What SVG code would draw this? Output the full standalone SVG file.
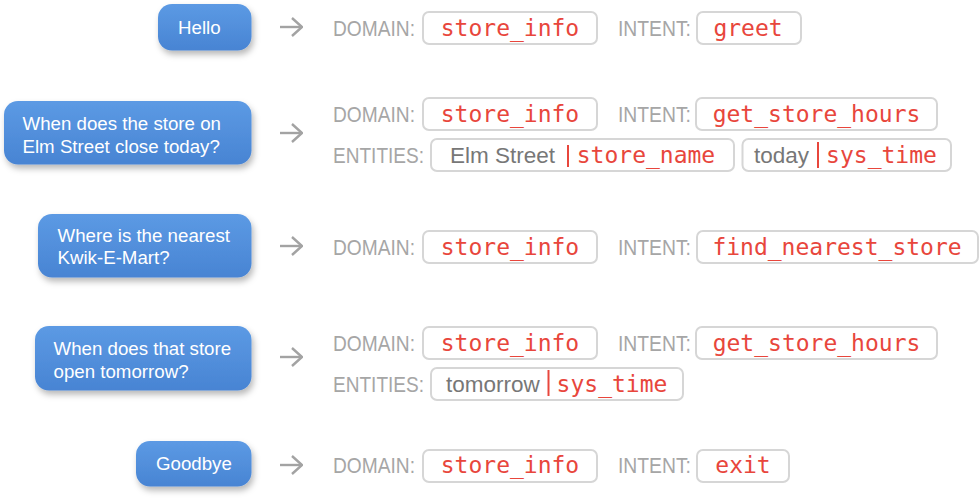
<svg xmlns="http://www.w3.org/2000/svg" width="979" height="500" viewBox="0 0 979 500">
<defs>
<linearGradient id="bg" x1="0" y1="0" x2="0" y2="1">
<stop offset="0" stop-color="#5c9ae4"/>
<stop offset="1" stop-color="#4884d3"/>
</linearGradient>
<filter id="sh" x="-20%" y="-30%" width="150%" height="180%">
<feDropShadow dx="2" dy="4" stdDeviation="3" flood-color="#000" flood-opacity="0.28"/>
</filter>
<marker id="ah" viewBox="0 0 12 20" refX="11" refY="10" markerWidth="12" markerHeight="20" markerUnits="userSpaceOnUse" orient="auto">
<path d="M1,1 L11,10 L1,19" fill="none" stroke="#a3a3a3" stroke-width="2.4"/>
</marker>
</defs>
<style>
.bub{fill:url(#bg);filter:url(#sh)}
.bt{fill:#fff;font-family:"Liberation Sans",Arial,sans-serif;font-size:18.7px}
.lbl{fill:#a6a6a6;font-family:"Liberation Sans",Arial,sans-serif;font-size:22px}
.box{fill:#fff;stroke:#d6d6d6;stroke-width:2}
.val{fill:#e8463c;font-family:"DejaVu Sans Mono",monospace;font-size:23px;text-anchor:middle}
.ent{fill:#777;font-family:"Liberation Sans",Arial,sans-serif;font-size:22.5px}
.bar{stroke:#e8463c;stroke-width:2}
.arr{stroke:#a3a3a3;stroke-width:2.4;fill:none}
</style>

<g id="connectors">
<line class="arr" x1="280" y1="27" x2="302" y2="27" marker-end="url(#ah)"/>
<line class="arr" x1="280" y1="133" x2="302" y2="133" marker-end="url(#ah)"/>
<line class="arr" x1="280" y1="246" x2="302" y2="246" marker-end="url(#ah)"/>
<line class="arr" x1="280" y1="357" x2="302" y2="357" marker-end="url(#ah)"/>
<line class="arr" x1="280" y1="465" x2="302" y2="465" marker-end="url(#ah)"/>
</g>

<g id="q1">
<rect class="bub" x="158" y="4" width="93.5" height="46.5" rx="14"/>
<text class="bt" x="178" y="33.5">Hello</text>
</g>
<g id="q2">
<rect class="bub" x="4" y="101" width="247.5" height="63.5" rx="14"/>
<text class="bt" x="22.5" y="130">When does the store on</text>
<text class="bt" x="22.5" y="152.5">Elm Street close today?</text>
</g>
<g id="q3">
<rect class="bub" x="38" y="214" width="213.5" height="63.5" rx="14"/>
<text class="bt" x="57.5" y="241.5">Where is the nearest</text>
<text class="bt" x="57.5" y="264">Kwik-E-Mart?</text>
</g>
<g id="q4">
<rect class="bub" x="35" y="326" width="216.5" height="64.5" rx="14"/>
<text class="bt" x="53.5" y="355">When does that store</text>
<text class="bt" x="53.5" y="377.5">open tomorrow?</text>
</g>
<g id="q5">
<rect class="bub" x="136" y="441" width="115.5" height="45.5" rx="14"/>
<text class="bt" x="156" y="470">Goodbye</text>
</g>

<g id="r1">
<text class="lbl" x="333" y="35.5" textLength="82" lengthAdjust="spacingAndGlyphs">DOMAIN:</text>
<rect class="box" x="423" y="12" width="174" height="32" rx="6"/>
<text class="val" x="510" y="35.5">store_info</text>
<text class="lbl" x="618" y="35.5" textLength="73" lengthAdjust="spacingAndGlyphs">INTENT:</text>
<rect class="box" x="697" y="12" width="104" height="32" rx="6"/>
<text class="val" x="748" y="35.5">greet</text>
</g>

<g id="r2">
<text class="lbl" x="333" y="121.5" textLength="82" lengthAdjust="spacingAndGlyphs">DOMAIN:</text>
<rect class="box" x="423" y="98" width="174" height="32" rx="6"/>
<text class="val" x="510" y="121.5">store_info</text>
<text class="lbl" x="618" y="121.5" textLength="73" lengthAdjust="spacingAndGlyphs">INTENT:</text>
<rect class="box" x="696" y="98" width="241" height="32" rx="6"/>
<text class="val" x="816.5" y="121.5">get_store_hours</text>
<text class="lbl" x="333" y="162.5" textLength="91" lengthAdjust="spacingAndGlyphs">ENTITIES:</text>
<rect class="box" x="431" y="139" width="303" height="32" rx="6"/>
<text class="ent" x="450" y="162.5">Elm Street</text>
<line class="bar" x1="568" y1="145" x2="568" y2="167"/>
<text class="val" x="646" y="162.5">store_name</text>
<rect class="box" x="742.5" y="139" width="208.5" height="32" rx="6"/>
<text class="ent" x="754" y="162.5">today</text>
<line class="bar" x1="818" y1="142" x2="818" y2="168"/>
<text class="val" x="881.5" y="162.5">sys_time</text>
</g>

<g id="r3">
<text class="lbl" x="333" y="254.5" textLength="82" lengthAdjust="spacingAndGlyphs">DOMAIN:</text>
<rect class="box" x="423" y="231" width="174" height="32" rx="6"/>
<text class="val" x="510" y="254.5">store_info</text>
<text class="lbl" x="618" y="254.5" textLength="73" lengthAdjust="spacingAndGlyphs">INTENT:</text>
<rect class="box" x="697" y="231" width="281" height="32" rx="6"/>
<text class="val" x="837" y="254.5">find_nearest_store</text>
</g>

<g id="r4">
<text class="lbl" x="333" y="350.5" textLength="82" lengthAdjust="spacingAndGlyphs">DOMAIN:</text>
<rect class="box" x="423" y="327" width="174" height="32" rx="6"/>
<text class="val" x="510" y="350.5">store_info</text>
<text class="lbl" x="618" y="350.5" textLength="73" lengthAdjust="spacingAndGlyphs">INTENT:</text>
<rect class="box" x="696" y="327" width="241" height="32" rx="6"/>
<text class="val" x="816.5" y="350.5">get_store_hours</text>
<text class="lbl" x="333" y="391.5" textLength="91" lengthAdjust="spacingAndGlyphs">ENTITIES:</text>
<rect class="box" x="431" y="368" width="252" height="32" rx="6"/>
<text class="ent" x="446" y="391.5">tomorrow</text>
<line class="bar" x1="548.5" y1="370" x2="548.5" y2="396"/>
<text class="val" x="612" y="391.5">sys_time</text>
</g>

<g id="r5">
<text class="lbl" x="333" y="473" textLength="82" lengthAdjust="spacingAndGlyphs">DOMAIN:</text>
<rect class="box" x="423" y="450" width="174" height="32" rx="6"/>
<text class="val" x="510" y="473">store_info</text>
<text class="lbl" x="618" y="473" textLength="73" lengthAdjust="spacingAndGlyphs">INTENT:</text>
<rect class="box" x="697" y="450" width="92" height="32" rx="6"/>
<text class="val" x="743" y="473">exit</text>
</g>
</svg>
